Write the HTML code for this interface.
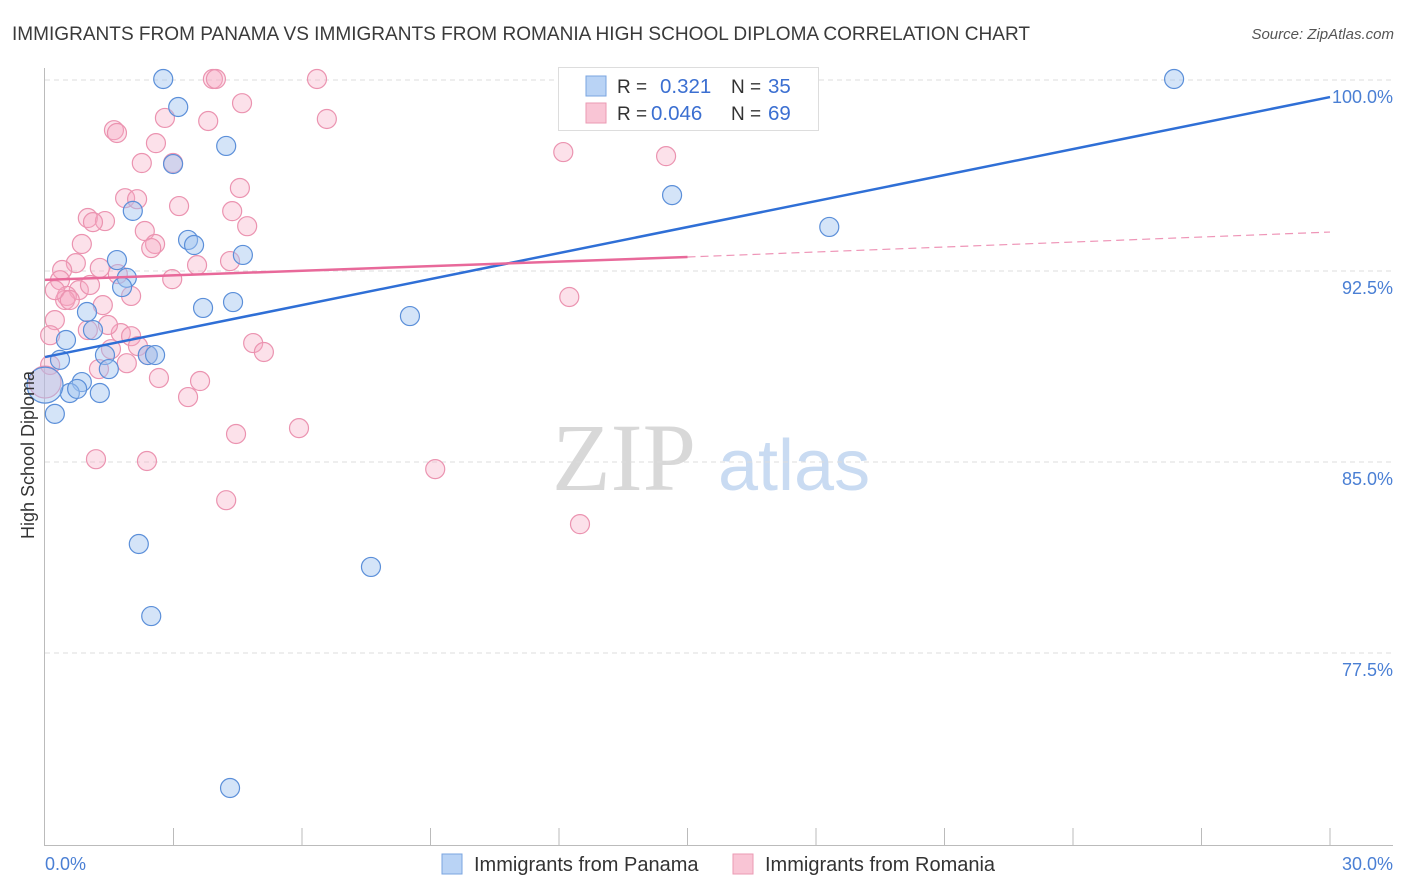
<!DOCTYPE html>
<html><head><meta charset="utf-8">
<style>
body{margin:0;background:#fff;font-family:"Liberation Sans",sans-serif;}
svg{display:block}
</style></head>
<body>
<svg id="chart" width="1406" height="892" xmlns="http://www.w3.org/2000/svg">
<text x="12" y="40" font-size="19" fill="#3a3a3a" textLength="1018" lengthAdjust="spacingAndGlyphs">IMMIGRANTS FROM PANAMA VS IMMIGRANTS FROM ROMANIA HIGH SCHOOL DIPLOMA CORRELATION CHART</text>
<text x="1394" y="39" font-size="15" fill="#555" font-style="italic" text-anchor="end">Source: ZipAtlas.com</text>
<g>
<text x="552" y="490" font-size="96" fill="#d8d8d8" font-family="Liberation Serif,serif">ZIP</text>
<text x="718" y="490" font-size="72" fill="#c9dbf2">atlas</text>
</g>
<g id="grid"></g>
<g id="axes"></g>
<g id="marks"></g>
<g id="trends"></g>
<text transform="translate(34,455) rotate(-90)" font-size="18" fill="#333" text-anchor="middle">High School Diploma</text>
<g>
<rect x="558.5" y="67.5" width="260" height="63" fill="#fff" stroke="#ddd"/>
<rect x="586" y="76" width="20" height="20" fill="#b9d3f5" stroke="#7aa5e0"/>
<rect x="586" y="103" width="20" height="20" fill="#f9c5d5" stroke="#eb9ab3"/>
<text x="617" y="93" font-size="19" fill="#333">R = </text>
<text x="660" y="93" font-size="20.5" fill="#3b6fd1">0.321</text>
<text x="731" y="93" font-size="19" fill="#333">N = </text>
<text x="768" y="93" font-size="20.5" fill="#3b6fd1">35</text>
<text x="617" y="120" font-size="19" fill="#333">R = </text>
<text x="651" y="120" font-size="20.5" fill="#3b6fd1">0.046</text>
<text x="731" y="120" font-size="19" fill="#333">N = </text>
<text x="768" y="120" font-size="20.5" fill="#3b6fd1">69</text>
</g>
<g>
<rect x="442" y="854" width="20" height="20" fill="#b9d3f5" stroke="#7aa5e0"/>
<text x="474" y="871" font-size="20" fill="#333">Immigrants from Panama</text>
<rect x="733" y="854" width="20" height="20" fill="#f9c5d5" stroke="#eb9ab3"/>
<text x="765" y="871" font-size="20" fill="#333">Immigrants from Romania</text>
</g>
</svg>
<script>
const blueX=[2.76,3.11,4.23,2.99,2.05,3.34,3.48,4.62,1.68,1.91,1.80,4.39,3.69,0.98,1.12,0.49,0.35,1.40,2.40,2.57,1.49,0.86,0.58,1.28,0.75,0.23,0.0,8.52,14.64,18.31,26.36,2.19,7.61,2.48,4.32];
const blueY=[100.04,98.94,97.41,96.70,94.86,93.72,93.52,93.13,92.93,92.23,91.87,91.28,91.05,90.89,90.18,89.79,89.01,89.20,89.20,89.20,88.65,88.14,87.71,87.71,87.87,86.89,88.02,90.73,95.48,94.23,100.04,81.78,80.88,78.95,72.20];
const pinkX=[3.92,3.99,6.35,4.60,2.80,3.81,6.58,1.61,1.68,2.59,2.26,2.99,4.55,1.87,2.15,3.13,4.37,1.00,1.40,1.12,4.72,2.33,0.86,2.57,2.48,4.32,0.72,0.40,1.28,3.55,2.97,1.70,0.35,0.79,0.51,0.47,1.35,2.01,1.00,1.77,2.01,0.23,0.12,4.86,5.11,1.54,2.17,2.40,1.26,1.91,2.66,3.62,3.34,5.93,4.46,1.19,2.38,9.11,4.23,12.49,12.10,14.50,12.24,0.12,0.0,0.23,1.47,0.58,1.05];
const pinkY=[100.04,100.04,100.04,99.09,98.51,98.39,98.47,98.03,97.92,97.52,96.74,96.74,95.76,95.36,95.32,95.05,94.85,94.58,94.46,94.42,94.26,94.07,93.56,93.56,93.40,92.89,92.81,92.54,92.62,92.73,92.18,92.38,92.14,91.75,91.52,91.36,91.16,91.52,90.18,90.06,89.94,90.57,89.98,89.67,89.32,89.43,89.55,89.20,88.65,88.88,88.30,88.18,87.55,86.33,86.10,85.11,85.04,84.72,83.50,82.56,97.17,97.01,91.48,88.81,88.14,91.75,90.38,91.36,91.95];
const yTicks=[100,92.5,85,77.5];
const yTickLabels=["100.0%","92.5%","85.0%","77.5%"];
const blueTrend=[[0,89.12],[30,99.33]];
const pinkTrendSolid=[[0,92.15],[15,93.05]];
const pinkTrendDash=[[15,93.05],[30,94.03]];

const NS="http://www.w3.org/2000/svg";
const xs=v=>45+v/30*1285;
const ys=v=>80+(100-v)*25.467;
function mk(tag,attrs,parent){const e=document.createElementNS(NS,tag);for(const k in attrs)e.setAttribute(k,attrs[k]);parent.appendChild(e);return e;}
const grid=document.getElementById('grid'),axes=document.getElementById('axes'),marks=document.getElementById('marks'),trends=document.getElementById('trends');
yTicks.forEach((t,i)=>{
  const l=mk('line',{x1:45,x2:1393,y1:ys(t),y2:ys(t),stroke:'#ddd','stroke-dasharray':'5,4'},grid);
  
  
  const tx=mk('text',{x:1393,y:ys(t)+23,'font-size':18,fill:'#4a7fd4','text-anchor':'end'},grid);
  tx.textContent=yTickLabels[i];
  
  
});
let a=mk('line',{x1:44.5,x2:44.5,y1:68,y2:845,stroke:'#bbb'},axes);


a=mk('line',{x1:44,x2:1393,y1:845.5,y2:845.5,stroke:'#bbb'},axes);


for(let v=3;v<=30;v+=3){
  const t=mk('line',{x1:xs(v),x2:xs(v),y1:828,y2:845,stroke:'#bbb'},axes);
  
  
}
let t0=mk('text',{x:45,y:870,'font-size':18,fill:'#4a7fd4'},axes);t0.textContent='0.0%';


let t1=mk('text',{x:1393,y:870,'font-size':18,fill:'#4a7fd4','text-anchor':'end'},axes);t1.textContent='30.0%';


pinkX.forEach((x,i)=>{
  const r=(x===0)?16:9.5;
  const c=mk('circle',{cx:xs(x),cy:ys(pinkY[i]),r:r,fill:'rgba(246,170,196,0.35)',stroke:'#eb93b0','stroke-width':1.2},marks);
  
  
});
blueX.forEach((x,i)=>{
  const r=(x===0)?18:9.5;
  const c=mk('circle',{cx:xs(x),cy:ys(blueY[i]),r:r,fill:'rgba(160,196,240,0.45)',stroke:'#5b8fd9','stroke-width':1.2},marks);
  
  
});
function seg(p,attrs,name){const l=mk('line',Object.assign({x1:xs(p[0][0]),y1:ys(p[0][1]),x2:xs(p[1][0]),y2:ys(p[1][1])},attrs),trends);
  
  }
seg(blueTrend,{stroke:'#2f6fd6','stroke-width':2.5},'panama-trend-line');
seg(pinkTrendSolid,{stroke:'#e8699a','stroke-width':2.5},'romania-trend-line');
seg(pinkTrendDash,{stroke:'#e8699a','stroke-width':1.2,'stroke-dasharray':'8,5',opacity:0.7},'romania-trend-extension');
</script>
</body></html>
